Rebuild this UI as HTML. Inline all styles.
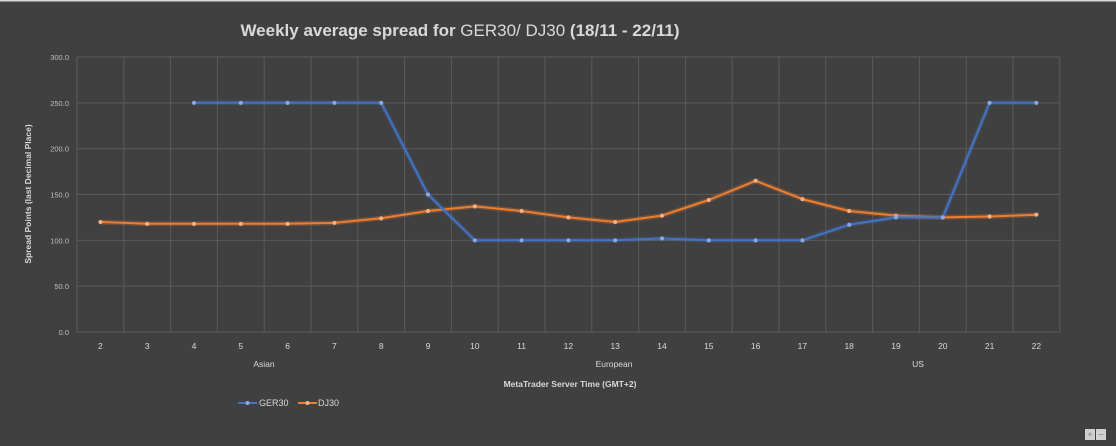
<!DOCTYPE html>
<html><head><meta charset="utf-8"><style>
html,body{margin:0;padding:0;background:#404040;}
svg{display:block;font-family:"Liberation Sans",sans-serif;}
</style></head><body>
<svg id="c" width="1116" height="446" xmlns="http://www.w3.org/2000/svg">
<rect width="1116" height="446" fill="#404040"/>
<rect x="0" y="0" width="1116" height="1.5" fill="#d9d9d9"/>
<text x="460" y="36" text-anchor="middle" font-size="17" font-weight="bold" fill="#d9d9d9">Weekly average spread for <tspan font-weight="normal">GER30/ DJ30</tspan>  (18/11 - 22/11)</text>
<g id="grid" stroke="#5a5a5a" stroke-width="1"></g>
<g id="ylab" font-size="7.5" fill="#bfbfbf" text-anchor="end"></g>
<g id="xlab" font-size="8.5" fill="#d9d9d9" text-anchor="middle"></g>
<text x="264" y="367" font-size="8.5" fill="#d9d9d9" text-anchor="middle">Asian</text>
<text x="614" y="367" font-size="8.5" fill="#d9d9d9" text-anchor="middle">European</text>
<text x="918" y="367" font-size="8.5" fill="#d9d9d9" text-anchor="middle">US</text>
<text x="570" y="387" font-size="8.5" font-weight="bold" fill="#d9d9d9" text-anchor="middle">MetaTrader Server Time (GMT+2)</text>
<text transform="translate(31,194) rotate(-90)" font-size="8.5" font-weight="bold" fill="#d9d9d9" text-anchor="middle">Spread Points  (last Decimal Place)</text>
<g id="series"></g>
<line x1="238" y1="403" x2="257" y2="403" stroke="#4472c4" stroke-width="2"/><circle cx="247.5" cy="403" r="2" fill="#8fa9dc"/>
<text x="259" y="406" font-size="9" fill="#d9d9d9">GER30</text>
<line x1="298" y1="403" x2="317" y2="403" stroke="#ed7d31" stroke-width="2"/><circle cx="307.5" cy="403" r="2" fill="#f4b183"/>
<text x="318" y="406" font-size="9" fill="#d9d9d9">DJ30</text>
<rect x="1085" y="429" width="10" height="11" fill="#d0d0d0"/><text x="1090" y="438" font-size="10" fill="#888" text-anchor="middle">+</text>
<rect x="1096" y="429" width="10" height="11" fill="#d0d0d0"/><text x="1101" y="438" font-size="10" fill="#888" text-anchor="middle">−</text>
</svg>
<script>
var NS="http://www.w3.org/2000/svg";
function el(p,t,a,txt){var e=document.createElementNS(NS,t);for(var k in a)e.setAttribute(k,a[k]);if(txt!=null)e.textContent=txt;document.getElementById(p).appendChild(e);return e;}
var L=77,W=46.8,Y0=332,S=275/300;
function X(i){return L+W/2+(i-2)*W;}function Y(v){return Y0-v*S;}
for(var k=0;k<=21;k++){var x=L+k*W;el("grid","line",{x1:x,y1:57,x2:x,y2:Y0});}
for(var v=0;v<=300;v+=50){el("grid","line",{x1:L,y1:Y(v),x2:L+21*W,y2:Y(v)});el("ylab","text",{x:69,y:Y(v)+3},v.toFixed(1));}
for(var i=2;i<=22;i++)el("xlab","text",{x:X(i),y:349},i);
var ger={4:250,5:250,6:250,7:250,8:250,9:150,10:100,11:100,12:100,13:100,14:102,15:100,16:100,17:100,18:117,19:125,20:125,21:250,22:250};
var dj=[120,118,118,118,118,119,124,132,137,132,125,120,127,144,165,145,132,127,125,126,128];
function draw(pts,col,mk){var d=pts.map(function(p){return p[0].toFixed(1)+","+p[1].toFixed(1)}).join(" ");
el("series","polyline",{points:d,fill:"none",stroke:col,"stroke-width":5,"stroke-opacity":0.25,"stroke-linejoin":"round"});
el("series","polyline",{points:d,fill:"none",stroke:col,"stroke-width":2,"stroke-linejoin":"round"});
pts.forEach(function(p){el("series","circle",{cx:p[0],cy:p[1],r:2,fill:mk});});}
var dp=dj.map(function(v,j){return [X(j+2),Y(v)]});
draw(dp,"#ed7d31","#f4b183");
var gp=[];for(var i=4;i<=22;i++)gp.push([X(i),Y(ger[i])]);
draw(gp,"#4472c4","#8fa9dc");
</script>
</body></html>
